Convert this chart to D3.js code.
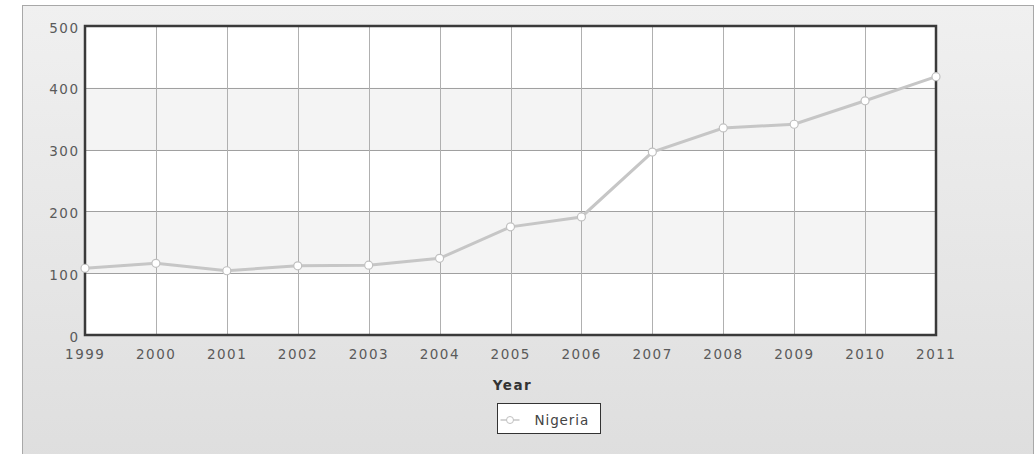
<!DOCTYPE html>
<html><head><meta charset="utf-8">
<script src="https://cdn.jsdelivr.net/npm/d3@7"></script>
<style>body{margin:0;background:#fff}</style>
</head><body>
<svg id="c" width="1035" height="454"></svg>
<script>
const years = [1999,2000,2001,2002,2003,2004,2005,2006,2007,2008,2009,2010,2011];
const nigeria = [108,116,104,112,113,124,175,191,296,335,341,379,418];
const yTicks = [0,100,200,300,400,500];
const seriesName = "Nigeria";
const xTitle = "Year";

const svg = d3.select("#c");
const font = "'DejaVu Sans', Verdana, sans-serif";
const FS = 13.5, LS = 1.5;
const defs = svg.append("defs");
const g = defs.append("linearGradient").attr("id","bg").attr("x1",0).attr("y1",0).attr("x2",0).attr("y2",1);
g.append("stop").attr("offset","0%").attr("stop-color","#f0f0f0");
g.append("stop").attr("offset","100%").attr("stop-color","#dedede");
svg.append("rect").attr("x",22.5).attr("y",5.5).attr("width",1011).attr("height",460)
  .attr("fill","url(#bg)").attr("stroke","#a8a8a8").attr("stroke-width",1);

const L=85,R=936,T=26,B=335;
const x = d3.scalePoint().domain(years).range([L,R]);
const y = d3.scaleLinear().domain([0,500]).range([B,T]);

// bands
for(let i=0;i<yTicks.length-1;i++){
  svg.append("rect").attr("x",L).attr("width",R-L)
    .attr("y",y(yTicks[i+1])).attr("height",y(yTicks[i])-y(yTicks[i+1]))
    .attr("fill", i%2===1 ? "#f4f4f4" : "#ffffff");
}
// grid
svg.append("g").selectAll("line").data(yTicks).join("line")
  .attr("x1",L).attr("x2",R).attr("y1",d=>Math.round(y(d))+0.5).attr("y2",d=>Math.round(y(d))+0.5)
  .attr("stroke","#a0a0a0").attr("stroke-width",1);
svg.append("g").selectAll("line").data(years).join("line")
  .attr("y1",T).attr("y2",B).attr("x1",d=>Math.round(x(d))+0.5).attr("x2",d=>Math.round(x(d))+0.5)
  .attr("stroke","#b0b0b0").attr("stroke-width",1);
// frame
svg.append("rect").attr("x",L).attr("y",T).attr("width",R-L).attr("height",B-T)
  .attr("fill","none").attr("stroke","#3a3a3a").attr("stroke-width",2.5);

// axes
const yAxis = svg.append("g").attr("transform",`translate(${L},0)`)
  .call(d3.axisLeft(y).tickValues(yTicks).tickSize(0).tickPadding(7 - LS));
yAxis.select(".domain").remove();
yAxis.selectAll("text").attr("font-family",font).attr("font-size",FS).attr("fill","#5a5a5a")
  .attr("letter-spacing",LS).attr("dy","0.45em");
const xAxis = svg.append("g").attr("transform",`translate(0,${B})`)
  .call(d3.axisBottom(x).tickSize(0).tickPadding(0).tickFormat(d3.format("d")));
xAxis.select(".domain").remove();
xAxis.selectAll("text").attr("font-family",font).attr("font-size",FS).attr("fill","#5a5a5a")
  .attr("letter-spacing",LS).attr("dy",null).attr("y",23.5).attr("dx",LS/2 - 1);

svg.append("text").attr("x",(L+R)/2+2).attr("y",390).attr("text-anchor","middle")
  .attr("font-family",font).attr("font-size",FS).attr("font-weight","bold").attr("fill","#333")
  .attr("letter-spacing",LS).text(xTitle);

// line
const line = d3.line().x((d,i)=>x(years[i])).y(d=>y(d));
svg.append("path").datum(nigeria).attr("d",line).attr("fill","none")
  .attr("stroke","#c6c6c6").attr("stroke-width",3);
svg.append("g").selectAll("circle").data(nigeria).join("circle")
  .attr("cx",(d,i)=>x(years[i])).attr("cy",d=>y(d)).attr("r",4)
  .attr("fill","#fff").attr("stroke","#c0c0c0").attr("stroke-width",1.2);

// legend
const lg = svg.append("g").attr("transform","translate(497.5,403.5)");
lg.append("rect").attr("width",103).attr("height",30).attr("fill","#fff").attr("stroke","#333").attr("stroke-width",1);
lg.append("line").attr("x1",3).attr("x2",22).attr("y1",16.5).attr("y2",16.5).attr("stroke","#c6c6c6").attr("stroke-width",1.5);
lg.append("circle").attr("cx",12.5).attr("cy",16.5).attr("r",3.5).attr("fill","#fff").attr("stroke","#c0c0c0");
lg.append("text").attr("x",37).attr("y",21.5).attr("font-family",font).attr("font-size",FS).attr("fill","#444")
  .attr("letter-spacing",LS*0.6).text(seriesName);
</script>
</body></html>
